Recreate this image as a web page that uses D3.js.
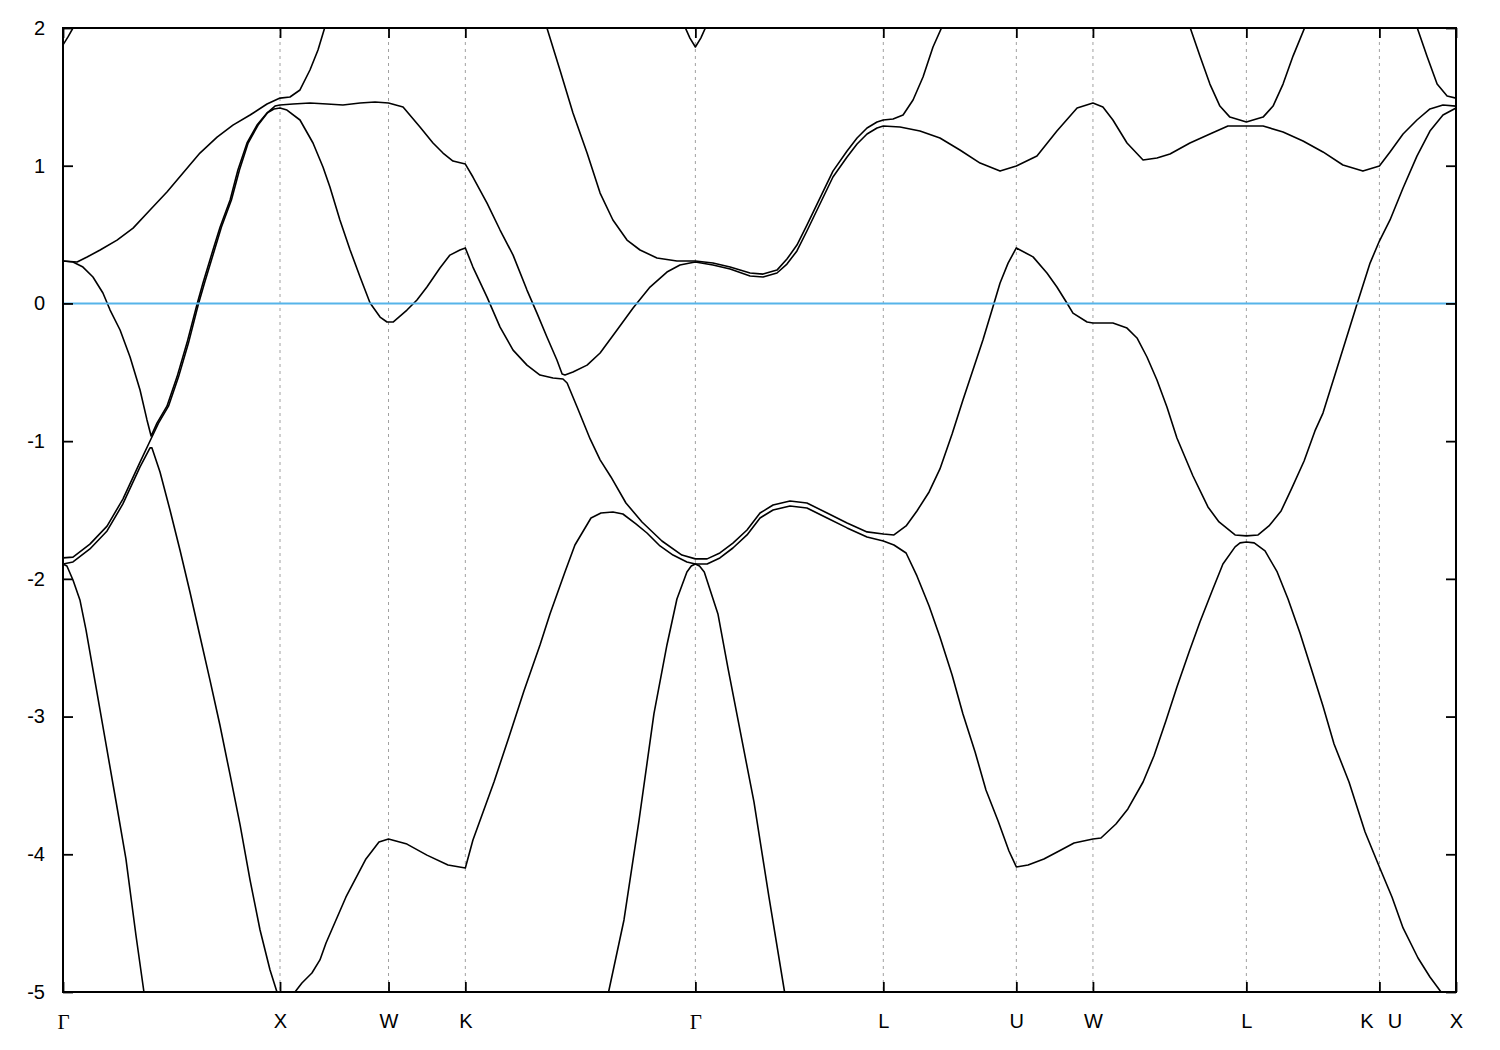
<!DOCTYPE html>
<html><head><meta charset="utf-8">
<script src="https://cdn.jsdelivr.net/npm/d3@7"></script>
<style>body{margin:0;background:#fff} svg{display:block}</style>
</head><body><svg id="chart" width="1500" height="1050"></svg>
<script>
// high-symmetry points (path length, 2pi/a units)
const kTicks = [0, 1.0, 1.5, 1.854, 2.914, 3.780, 4.393, 4.746, 5.453, 6.066, 6.419];
const kLabels = ["Γ", "X", "W", "K", "Γ", "L", "U", "W", "L", "K U", "X"];
const eTicks = [-5, -4, -3, -2, -1, 0, 1, 2];
const eDomain = [-5, 2];

// bands: [k, E(eV)]
const bandA1 = [[0,1.877],[0.023,1.935],[0.046,2.0],[0.06,2.044]];
const bandB = [[0,0.308],[0.065,0.301],[0.111,0.337],[0.171,0.388],[0.249,0.46],[0.323,0.547],[0.401,0.678],[0.479,0.809],[0.553,0.947],[0.631,1.092],[0.71,1.208],[0.783,1.295],[0.862,1.368],[0.94,1.448],[1.0,1.491],[1.046,1.499],[1.092,1.55],[1.138,1.695],[1.175,1.84],[1.207,2.007],[1.221,2.073]];
const bandC = [[0,0.308],[0.046,0.301],[0.092,0.264],[0.138,0.192],[0.184,0.076],[0.217,-0.048],[0.263,-0.193],[0.309,-0.389],[0.355,-0.629],[0.387,-0.846],[0.406,-0.963],
[0.433,-0.869],[0.479,-0.746],[0.525,-0.535],[0.571,-0.288],[0.618,-0.004],[0.645,0.148],[0.691,0.388],[0.724,0.555],[0.77,0.751],[0.806,0.969],[0.848,1.165],[0.894,1.295],[0.94,1.383],[0.972,1.412],[1.0,1.419],
[1.032,1.404],[1.092,1.332],[1.152,1.165],[1.198,0.991],[1.23,0.846],[1.276,0.606],[1.323,0.388],[1.369,0.192],[1.415,0.003],[1.461,-0.099],[1.493,-0.135],[1.521,-0.135],[1.585,-0.048],[1.631,0.025],[1.677,0.119],[1.737,0.257],[1.783,0.351],[1.829,0.388],[1.854,0.403],
[1.889,0.264],[1.954,0.046],[2.014,-0.172],[2.074,-0.339],[2.138,-0.448],[2.198,-0.52],[2.258,-0.542],[2.304,-0.549],[2.323,-0.578],[2.369,-0.752],[2.429,-0.984],[2.475,-1.136],[2.525,-1.26],[2.594,-1.449],[2.668,-1.587],[2.76,-1.725],[2.852,-1.827],[2.914,-1.855],
[2.968,-1.855],[3.027,-1.812],[3.087,-1.74],[3.152,-1.645],[3.212,-1.522],[3.272,-1.464],[3.35,-1.435],[3.428,-1.449],[3.521,-1.522],[3.613,-1.594],[3.705,-1.659],[3.78,-1.674],[3.829,-1.681],
[3.885,-1.616],[3.935,-1.507],[3.991,-1.369],[4.041,-1.202],[4.097,-0.948],[4.147,-0.701],[4.193,-0.484],[4.239,-0.265],[4.285,-0.026],[4.318,0.148],[4.355,0.293],[4.393,0.403],
[4.47,0.338],[4.534,0.221],[4.58,0.119],[4.626,0.003],[4.654,-0.07],[4.719,-0.135],[4.746,-0.142],[4.778,-0.142],[4.838,-0.142],[4.903,-0.179],[4.949,-0.251],[4.995,-0.389],[5.041,-0.556],[5.087,-0.752],[5.133,-0.977],[5.207,-1.253],[5.276,-1.478],[5.327,-1.587],[5.401,-1.681],[5.453,-1.688],[5.507,-1.681],[5.557,-1.616],[5.613,-1.507],[5.663,-1.34],[5.719,-1.144],[5.769,-0.926],[5.806,-0.796],[5.871,-0.469],[5.931,-0.165],[5.963,-0.004],[6.023,0.293],[6.066,0.453],[6.115,0.606],[6.175,0.838],[6.239,1.07],[6.299,1.252],[6.359,1.368],[6.419,1.419]];
const bandE2 = [[0,-1.848],[0.046,-1.842],[0.124,-1.748],[0.203,-1.617],[0.276,-1.421],[0.355,-1.152],[0.401,-0.999],[0.44,-0.869],[0.486,-0.746],[0.532,-0.535],[0.578,-0.288],[0.624,-0.004],[0.652,0.148],[0.698,0.388],[0.73,0.555],[0.776,0.751],[0.813,0.969],[0.853,1.165],[0.899,1.295],[0.945,1.39],[0.977,1.433],[1.0,1.441],
[1.06,1.448],[1.138,1.455],[1.217,1.448],[1.29,1.441],[1.369,1.455],[1.438,1.463],[1.5,1.455],[1.567,1.426],[1.645,1.281],[1.705,1.165],[1.751,1.092],[1.797,1.034],[1.854,1.012],
[1.889,0.918],[1.954,0.729],[2.014,0.533],[2.074,0.351],[2.138,0.097],[2.184,-0.07],[2.23,-0.244],[2.276,-0.411],[2.3,-0.513],[2.313,-0.52],
[2.35,-0.498],[2.415,-0.448],[2.475,-0.36],[2.553,-0.193],[2.627,-0.033],[2.705,0.119],[2.783,0.228],[2.843,0.279],[2.889,0.293],[2.914,0.301],
[2.995,0.279],[3.074,0.25],[3.166,0.199],[3.226,0.192],[3.29,0.221],[3.336,0.286],[3.382,0.381],[3.428,0.526],[3.488,0.722],[3.548,0.918],[3.613,1.063],[3.659,1.158],[3.705,1.23],[3.751,1.274],[3.78,1.288],[3.857,1.281],[3.949,1.252],[4.041,1.201],[4.133,1.114],[4.226,1.019],[4.318,0.961],[4.393,0.998],[4.488,1.07],[4.58,1.252],[4.673,1.419],[4.746,1.455],[4.792,1.426],[4.838,1.332],[4.903,1.165],[4.977,1.041],[5.041,1.056],[5.101,1.085],[5.193,1.165],[5.285,1.23],[5.368,1.288],[5.453,1.288],[5.53,1.288],[5.622,1.245],[5.714,1.18],[5.806,1.1],[5.898,1.005],[5.99,0.961],[6.066,0.998],[6.115,1.1],[6.175,1.23],[6.239,1.332],[6.299,1.412],[6.359,1.441],[6.419,1.433]];
const bandT1 = [[2.221,2.044],[2.23,2.0],[2.29,1.695],[2.35,1.383],[2.415,1.092],[2.475,0.801],[2.534,0.606],[2.599,0.46],[2.659,0.388],[2.737,0.33],[2.829,0.308],[2.914,0.308],[2.995,0.293],[3.074,0.264],[3.166,0.221],[3.226,0.213],[3.29,0.242],[3.336,0.322],[3.382,0.424],[3.428,0.569],[3.488,0.765],[3.548,0.961],[3.613,1.107],[3.659,1.201],[3.705,1.274],[3.751,1.317],[3.78,1.332],[3.825,1.339],[3.871,1.368],[3.917,1.477],[3.963,1.644],[4.009,1.862],[4.05,2.007],[4.06,2.058]];
const bandA2 = [[2.857,2.058],[2.866,2.007],[2.889,1.927],[2.914,1.862],[2.939,1.927],[2.962,2.007],[2.971,2.058]];
const bandL2 = [[5.179,2.073],[5.193,2.007],[5.239,1.796],[5.285,1.593],[5.331,1.433],[5.377,1.353],[5.453,1.317],[5.53,1.353],[5.576,1.433],[5.622,1.593],[5.668,1.796],[5.723,2.007],[5.737,2.073]];
const bandXt = [[6.23,2.058],[6.239,2.007],[6.285,1.796],[6.332,1.593],[6.378,1.506],[6.419,1.491]];
const bandF = [[1.055,-5.058],[1.069,-5.0],[1.101,-4.935],[1.147,-4.862],[1.184,-4.767],[1.212,-4.644],[1.304,-4.31],[1.396,-4.034],[1.456,-3.911],[1.5,-3.889],[1.585,-3.926],[1.677,-4.006],[1.774,-4.078],[1.854,-4.1],[1.889,-3.896],[1.986,-3.475],[2.055,-3.148],[2.124,-2.814],[2.198,-2.48],[2.244,-2.255],[2.313,-1.95],[2.359,-1.754],[2.433,-1.558],[2.479,-1.522],[2.534,-1.514],[2.58,-1.529],[2.64,-1.601],[2.691,-1.667],[2.751,-1.761],[2.811,-1.827],[2.875,-1.877],[2.914,-1.892],
[2.968,-1.892],[3.027,-1.848],[3.087,-1.776],[3.152,-1.681],[3.212,-1.558],[3.272,-1.5],[3.35,-1.471],[3.428,-1.485],[3.521,-1.558],[3.613,-1.63],[3.705,-1.696],[3.78,-1.725],[3.829,-1.754],[3.885,-1.812],[3.935,-1.979],[3.991,-2.197],[4.041,-2.422],[4.097,-2.698],[4.147,-2.981],[4.203,-3.257],[4.253,-3.533],[4.309,-3.758],[4.359,-3.976],[4.393,-4.092],[4.447,-4.078],[4.52,-4.034],[4.59,-3.976],[4.659,-3.918],[4.746,-3.889],[4.783,-3.882],[4.852,-3.78],[4.907,-3.671],[4.977,-3.475],[5.027,-3.286],[5.082,-3.032],[5.133,-2.785],[5.189,-2.531],[5.239,-2.313],[5.295,-2.088],[5.345,-1.892],[5.401,-1.768],[5.424,-1.739],[5.453,-1.732],[5.489,-1.739],[5.539,-1.797],[5.595,-1.95],[5.645,-2.146],[5.7,-2.393],[5.751,-2.647],[5.806,-2.923],[5.857,-3.199],[5.926,-3.475],[6.0,-3.838],[6.066,-4.092],[6.124,-4.31],[6.175,-4.535],[6.244,-4.753],[6.299,-4.891],[6.35,-5.0],[6.392,-5.08]];
const bandE1 = [[0,-1.892],[0.046,-1.877],[0.124,-1.783],[0.203,-1.652],[0.276,-1.456],[0.355,-1.187],[0.401,-1.049],[0.41,-1.049],[0.447,-1.224],[0.493,-1.5],[0.539,-1.79],[0.585,-2.095],[0.631,-2.415],[0.677,-2.734],[0.723,-3.061],[0.77,-3.424],[0.816,-3.787],[0.862,-4.187],[0.908,-4.55],[0.954,-4.84],[0.986,-5.0],[1.0,-5.073]];
const bandH = [[0,-1.892],[0.018,-1.907],[0.046,-2.008],[0.078,-2.153],[0.106,-2.371],[0.152,-2.785],[0.198,-3.199],[0.244,-3.613],[0.29,-4.034],[0.336,-4.586],[0.373,-5.0],[0.378,-5.058]];
const bandG = [[2.507,-5.058],[2.514,-5.0],[2.585,-4.477],[2.654,-3.758],[2.723,-2.981],[2.783,-2.48],[2.829,-2.146],[2.875,-1.95],[2.895,-1.907],[2.914,-1.892],[2.933,-1.907],[2.955,-1.95],[3.018,-2.255],[3.064,-2.647],[3.115,-3.061],[3.184,-3.62],[3.253,-4.31],[3.325,-5.0],[3.332,-5.058]];

const bands = [bandA1, bandB, bandC, bandE2, bandT1, bandA2, bandL2, bandXt, bandF, bandE1, bandH, bandG];

const L = 63, R = 1456, T = 28, B = 992;
const x = d3.scaleLinear().domain([kTicks[0], kTicks[kTicks.length-1]]).range([L, R]);
const y = d3.scaleLinear().domain(eDomain).range([B, T]);
const svg = d3.select("#chart");
const FONT = "'Liberation Sans', Arial, sans-serif";

svg.append("defs").append("clipPath").attr("id","clip")
  .append("rect").attr("x",L).attr("y",T).attr("width",R-L).attr("height",B-T);

// grid
svg.append("g").selectAll("line").data(kTicks).join("line")
  .attr("x1",d=>x(d)).attr("x2",d=>x(d)).attr("y1",T).attr("y2",B)
  .attr("stroke","#a0a0a0").attr("stroke-width",1).attr("stroke-dasharray","3,4");

// bands
const line = d3.line().x(d=>x(d[0])).y(d=>y(d[1]));
svg.append("g").attr("clip-path","url(#clip)").selectAll("path").data(bands).join("path")
  .attr("d", line).attr("fill","none").attr("stroke","#000").attr("stroke-width",1.6)
  .attr("stroke-linejoin","round");

// Fermi level
svg.append("line").attr("x1",L).attr("x2",R).attr("y1",y(0)).attr("y2",y(0))
  .attr("stroke","#56b4e9").attr("stroke-width",2);

// axes
const fmtE = d => String(d);
const gl = svg.append("g").attr("transform",`translate(${L},0)`)
  .call(d3.axisLeft(y).tickValues(eTicks).tickFormat(fmtE).tickSizeInner(-10).tickSizeOuter(0).tickPadding(18));
const gr = svg.append("g").attr("transform",`translate(${R},0)`)
  .call(d3.axisRight(y).tickValues(eTicks).tickFormat("").tickSizeInner(-10).tickSizeOuter(0));
const gt = svg.append("g").attr("transform",`translate(0,${T})`)
  .call(d3.axisTop(x).tickValues(kTicks).tickFormat("").tickSizeInner(-10).tickSizeOuter(0));
const gb = svg.append("g").attr("transform",`translate(0,${B})`)
  .call(d3.axisBottom(x).tickValues(kTicks).tickFormat((d,i)=>kLabels[i]).tickSizeInner(-10).tickSizeOuter(0).tickPadding(22));
[gl,gr,gt,gb].forEach(g=>{
  g.select(".domain").remove();
  g.selectAll(".tick line").attr("stroke","#000").attr("stroke-width",1.8);
  g.selectAll("text").attr("font-family",FONT).attr("font-size",20).attr("fill","#000");
});
gb.selectAll(".tick text").each(function(d,i){
  const t = d3.select(this), lab = kLabels[i];
  if (lab === "Γ") t.attr("font-family","'Liberation Serif','Times New Roman',serif").attr("font-size",21);
  if (lab.includes(" ")) {
    const parts = lab.split(" ");
    t.text(null);
    t.append("tspan").attr("x",-13).text(parts[0]);
    t.append("tspan").attr("x",15).text(parts[1]);
  }
});

// frame
svg.append("rect").attr("x",L).attr("y",T).attr("width",R-L).attr("height",B-T)
  .attr("fill","none").attr("stroke","#000").attr("stroke-width",2);
</script></body></html>
